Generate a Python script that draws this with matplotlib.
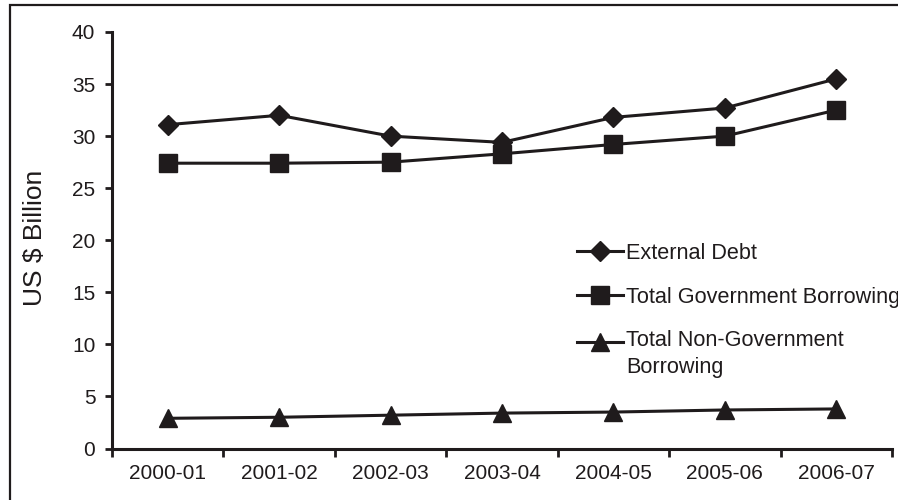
import matplotlib
matplotlib.use("Agg")
import matplotlib.pyplot as plt
from matplotlib.patches import Rectangle

# Years and series (US $ billion)
years = ["2000-01", "2001-02", "2002-03", "2003-04", "2004-05", "2005-06", "2006-07"]
external_debt = [31.1, 32.0, 30.0, 29.4, 31.8, 32.7, 35.5]
govt_borrowing = [27.4, 27.4, 27.5, 28.3, 29.2, 30.0, 32.5]
non_govt_borrowing = [2.9, 3.0, 3.2, 3.4, 3.5, 3.7, 3.8]

INK = "#1f1b1c"

plt.rcParams["font.family"] = ["Liberation Sans", "DejaVu Sans"]
plt.rcParams["text.color"] = INK


def main():
    fig = plt.figure(figsize=(8.98, 5.0), dpi=100)
    ax = fig.add_axes([112 / 898, 1 - 448.5 / 500, 780 / 898, 416.5 / 500])

    # outer frame around the whole chart (runs off the right/bottom edge)
    fig.patches.append(Rectangle((10 / 898, -0.1), 1.2, 1.1 - 5 / 500,
                                 transform=fig.transFigure, fill=False,
                                 edgecolor=INK, linewidth=1.6, clip_on=False))

    x = range(len(years))
    ax.plot(x, external_debt, color=INK, lw=2.2, marker="D", ms=10,
            label="External Debt", clip_on=False)
    ax.plot(x, govt_borrowing, color=INK, lw=2.2, marker="s", ms=13.5,
            label="Total Government Borrowing", clip_on=False)
    ax.plot(x, non_govt_borrowing, color=INK, lw=2.2, marker="^", ms=12.5,
            label="Total Non-Government\nBorrowing", clip_on=False)

    ax.set_xlim(-0.5, len(years) - 0.5)
    ax.set_ylim(0, 40)
    ax.set_yticks(range(0, 41, 5))

    # category boundaries as major ticks, labels on minor ticks
    ax.set_xticks([i - 0.5 for i in range(len(years) + 1)])
    ax.set_xticklabels([])
    ax.set_xticks(list(x), minor=True)
    ax.set_xticklabels(years, minor=True)
    ax.tick_params(axis="x", which="major", direction="out", length=6, width=2, color=INK)
    ax.tick_params(axis="x", which="minor", length=0, pad=11, labelsize=15, labelcolor=INK)
    ax.tick_params(axis="y", direction="out", length=5, width=2, color=INK,
                   pad=7, labelsize=15, labelcolor=INK)

    for side in ("top", "right"):
        ax.spines[side].set_visible(False)
    for side in ("left", "bottom"):
        ax.spines[side].set_linewidth(2.2)
        ax.spines[side].set_color(INK)

    ax.set_ylabel("US $ Billion", fontsize=19, color=INK)
    ax.yaxis.set_label_coords(-0.083, 0.505)

    # legend text runs past the right edge, as in the printed chart
    leg = ax.legend(loc="upper left", bbox_to_anchor=(577 / 898, 1 - 243 / 500),
                    bbox_transform=fig.transFigure, frameon=False, fontsize=15.6,
                    handlelength=2.1, handletextpad=0.15, labelspacing=1.05,
                    borderpad=0, borderaxespad=0)
    for txt in leg.get_texts():
        txt.set_linespacing(1.35)
    # keep the two-line entry's handle level with its first line
    h = leg.legend_handles[2]
    h.set_ydata([y + 9 for y in h.get_ydata()])

    fig.savefig("out.png", dpi=100)


if __name__ == "__main__":
    main()
